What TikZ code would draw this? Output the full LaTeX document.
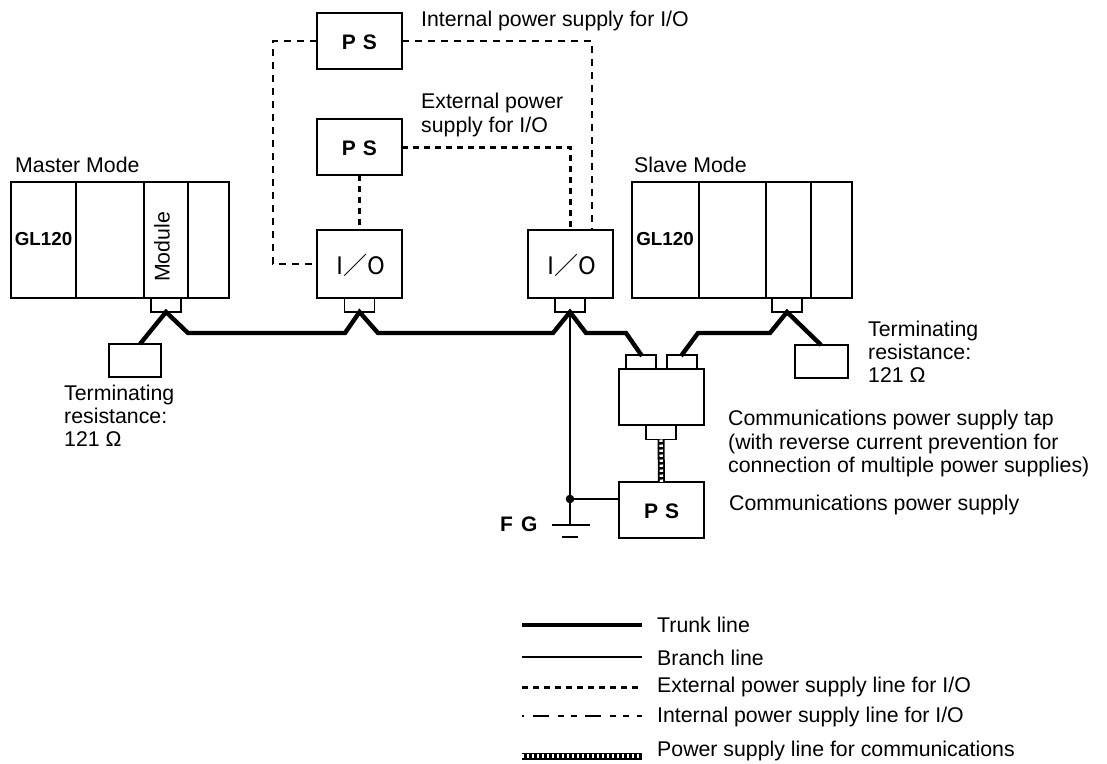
\documentclass[tikz,border=0pt]{standalone}
\usepackage{fontspec}
\setmainfont{Liberation Sans}
\newfontfamily\cjkf{Noto Sans CJK JP}
\usetikzlibrary{calc}
\tikzset{
  box/.style={draw=black,line width=1.4pt,fill=white,inner sep=0pt,outer sep=0pt},
  lab/.style={anchor=base west,inner sep=0pt,font=\fontsize{21.3}{24}\selectfont},
  sym/.style={font=\fontsize{21}{24}\selectfont\bfseries,inner sep=0pt},
  iosym/.style={font=\fontsize{24}{26}\selectfont\cjkf,inner sep=0pt},
  glsym/.style={font=\fontsize{18.8}{22}\selectfont\bfseries,inner sep=0pt},
  trunk/.style={line width=4.4pt,line join=miter,miter limit=3},
  branch/.style={line width=1.4pt},
  extline/.style={line width=3pt,dash pattern=on 6pt off 5pt},
  intline/.style={line width=1.4pt,dash pattern=on 7pt off 6pt},
  intleg/.style={line width=1.4pt,dash pattern=on 2pt off 9pt on 16pt off 9pt on 6pt off 7pt on 6pt off 8pt on 16pt off 9pt on 6pt off 7pt on 6pt off 8pt on 12pt},
  hatchb/.style={line width=7pt},
  hatchw/.style={line width=3.4pt,white,dash pattern=on 2.4pt off 2.6pt}
}
\begin{document}
\begin{tikzpicture}[x=1pt,y=-1pt]
\useasboundingbox (0,0) rectangle (1107,763);
% Master rack
\node[box,minimum width=65pt,minimum height=116pt] (m1) at (43.5,240) {};
\node[box,minimum width=68pt,minimum height=116pt] (m2) at (110,240) {};
\node[box,minimum width=44pt,minimum height=116pt] (m3) at (166,240) {};
\node[box,minimum width=41pt,minimum height=116pt] (m4) at (208.5,240) {};
\node[box,minimum width=30pt,minimum height=14pt] (mc) at (166,305) {};
\node[glsym] (gl1) at (43.5,239) {GL120};
\node[lab,anchor=center,rotate=90] (modt) at (162,247) {Module};
\node[box,minimum width=52pt,minimum height=33pt] (tl) at (135,360.5) {};
% I/O
\node[box,minimum width=85pt,minimum height=68pt] (io1) at (359.5,264) {};
\node[box,minimum width=85pt,minimum height=68pt] (io2) at (570.5,264) {};
\node[box,minimum width=30pt,minimum height=14pt] (ioc1) at (359.5,305) {};
\node[box,minimum width=30pt,minimum height=14pt] (ioc2) at (570,305) {};
\node[iosym] (iot1) at (361,265) {I／O};
\node[iosym] (iot2) at (572,265) {I／O};
% PS
\node[box,minimum width=85pt,minimum height=56pt] (ps1) at (359.5,41) {};
\node[box,minimum width=85pt,minimum height=56pt] (ps2) at (359.5,147) {};
\node[box,minimum width=85pt,minimum height=56pt] (ps3) at (661.5,510) {};
\node[sym] (pst1) at (359.5,42) {P\hspace{7pt}S};
\node[sym] (pst2) at (359.5,148) {P\hspace{7pt}S};
\node[sym] (pst3) at (661.5,511) {P\hspace{7pt}S};
% Slave rack
\node[box,minimum width=67pt,minimum height=116pt] (s1) at (665.5,240) {};
\node[box,minimum width=67pt,minimum height=116pt] (s2) at (732.5,240) {};
\node[box,minimum width=45pt,minimum height=116pt] (s3) at (788.5,240) {};
\node[box,minimum width=41pt,minimum height=116pt] (s4) at (831.5,240) {};
\node[box,minimum width=30pt,minimum height=14pt] (sc) at (787,305) {};
\node[glsym] (gl2) at (665,239) {GL120};
\node[box,minimum width=53pt,minimum height=33pt] (tr) at (821.5,361.5) {};
% Tap
\node[box,minimum width=85pt,minimum height=56pt] (tap) at (661.5,397) {};
\node[box,minimum width=30pt,minimum height=14pt] (tc1) at (641,362) {};
\node[box,minimum width=30pt,minimum height=14pt] (tc2) at (682,362) {};
\node[box,minimum width=30pt,minimum height=14pt] (tc3) at (661,432.5) {};
% Coordinates
\coordinate (t1) at (140,344);
\coordinate (t2) at (188,333);
\coordinate (t3) at (345,333);
\coordinate (t4) at (378,333);
\coordinate (t5) at (553,333);
\coordinate (t6) at (586,333);
\coordinate (t7) at (626,333);
\coordinate (t8) at (698,333);
\coordinate (t9) at (770,333);
\coordinate (t10) at (642,356);
\coordinate (t11) at (681,356);
\coordinate (t12) at (821,345);
% Trunk
\draw[trunk] (t1) -- (mc.south) -- (t2) -- (t3) -- (ioc1.south) -- (t4) -- (t5) -- (ioc2.south) -- (t6) -- (t7) -- (t10);
\draw[trunk] (t11) -- (t8) -- (t9) -- (sc.south) -- (t12);
% Branch and ground
\coordinate (gtop) at (570,525);
\coordinate (gl) at (552,525);
\coordinate (gr) at (590,525);
\coordinate (g2l) at (562,537);
\coordinate (g2r) at (578,537);
\coordinate (jn) at (570,499);
\draw[branch] (ioc2.south) -- (gtop);
\draw[branch] (jn) -- (jn -| ps3.west);
\draw[branch] (gl) -- (gr);
\draw[branch] (g2l) -- (g2r);
\fill (jn) circle (4.3pt);
\node[sym,anchor=base west] (fg) at (500,531) {F\hspace{8pt}G};
% Hatched line
\draw[hatchb] (tc3.south) -- (ps3.north);
\draw[hatchw] (tc3.south) -- (ps3.north);
% External
\coordinate (e1) at (570,230);
\coordinate (e2) at (570,147);
\draw[extline] (ps2.south) -- (io1.north);
\draw[extline] (ps2.east) -- (e2) -- (e1);
% Internal
\coordinate (i1) at (273,41);
\coordinate (i2) at (273,264);
\coordinate (i3) at (592,41);
\coordinate (i4) at (592,230);
\draw[intline] (ps1.west) -- (i1) -- (i2) -- (io1.west);
\draw[intline] (ps1.east) -- (i3) -- (i4);
% Labels
\node[lab] (a1) at (15,172) {Master Mode};
\node[lab] (a2) at (634,172) {Slave Mode};
\node[lab] (a3) at (421,26) {Internal power supply for I/O};
\node[lab] (a4) at (421,108) {External power};
\node[lab] (a5) at (421,132) {supply for I/O};
\node[lab] (a6) at (64,400) {Terminating};
\node[lab] (a7) at (64,423) {resistance:};
\node[lab] (a8) at (64,446) {121 Ω};
\node[lab] (a9) at (868,336) {Terminating};
\node[lab] (a10) at (868,359) {resistance:};
\node[lab] (a11) at (868,382) {121 Ω};
\node[lab] (a12) at (728,425) {Communications power supply tap};
\node[lab] (a13) at (728,449) {(with reverse current prevention for};
\node[lab] (a14) at (728,472) {connection of multiple power supplies)};
\node[lab] (a15) at (729,510) {Communications power supply};
% Legend
\coordinate (la) at (522,625); \coordinate (lb) at (642,625);
\coordinate (lc) at (522,657); \coordinate (ld) at (642,657);
\coordinate (le) at (522,687); \coordinate (lf) at (642,687);
\coordinate (lg) at (522,716); \coordinate (lh) at (642,716);
\coordinate (li) at (522,756); \coordinate (lj) at (642,756);
\draw[trunk] (la) -- (lb);
\draw[branch] (lc) -- (ld);
\draw[extline] (le) -- (lf);
\draw[intleg] (lg) -- (lh);
\draw[hatchb] (li) -- (lj);
\draw[hatchw] (li) -- (lj);
\node[lab] (b1) at (657,632) {Trunk line};
\node[lab] (b2) at (657,665) {Branch line};
\node[lab] (b3) at (657,692) {External power supply line for I/O};
\node[lab] (b4) at (657,722) {Internal power supply line for I/O};
\node[lab] (b5) at (657,756) {Power supply line for communications};
\end{tikzpicture}
\end{document}
